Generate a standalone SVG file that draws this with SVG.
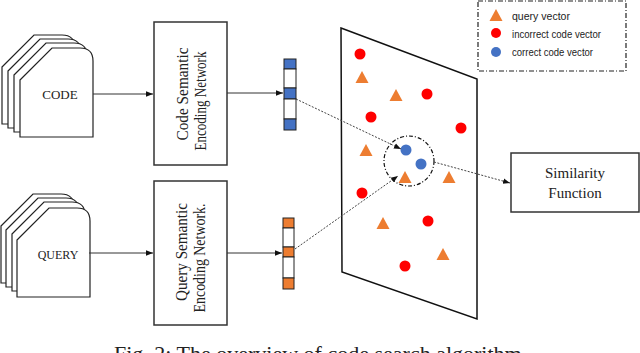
<svg xmlns="http://www.w3.org/2000/svg" width="640" height="353" viewBox="0 0 640 353">
<style>
.doc{fill:#fff;stroke:#222;stroke-width:1.2}
.box{fill:#fff;stroke:#333;stroke-width:1.5}
.serif{font-family:"Liberation Serif","Times New Roman",serif;fill:#222}
.sans{font-family:"Liberation Sans",Arial,sans-serif;fill:#222}
.line{stroke:#333;stroke-width:1;fill:none}
.dash{stroke:#444;stroke-width:1;fill:none;stroke-dasharray:2 1.5}
.red{fill:#ff0000}
.blue{fill:#4472c4}
.tri{fill:#ed7d31}
.cell{stroke:#222;stroke-width:1}
</style>
<defs>
<path id="docshape" d="M0,32 L32,0 L60,0 Q73,0 73,13 L73,89 L0,89 Z"/>
<path id="tri" d="M0,-7 L6.5,5 L-6.5,5 Z"/>
<marker id="arr" viewBox="0 0 10 10" refX="10" refY="5" markerWidth="7" markerHeight="7" orient="auto" markerUnits="userSpaceOnUse">
<path d="M0,1 L10,5 L0,9 Z" fill="#111"/>
</marker>
</defs>

<g id="code-docs">
<use href="#docshape" class="doc" x="2" y="35"/>
<use href="#docshape" class="doc" x="8" y="39"/>
<use href="#docshape" class="doc" x="14" y="43"/>
<use href="#docshape" class="doc" x="20" y="48"/>
<text class="serif" x="60" y="99" font-size="13" text-anchor="middle">CODE</text>
</g>

<g id="query-docs">
<use href="#docshape" class="doc" x="1" y="194"/>
<use href="#docshape" class="doc" x="6" y="198"/>
<use href="#docshape" class="doc" x="12" y="202"/>
<use href="#docshape" class="doc" x="17" y="208"/>
<text class="serif" x="58" y="259" font-size="12" text-anchor="middle">QUERY</text>
</g>

<g id="code-net">
<rect class="box" x="154" y="22" width="73" height="143"/>
<text class="serif" font-size="17" text-anchor="middle" textLength="93" lengthAdjust="spacingAndGlyphs" transform="translate(188,94) rotate(-90)">Code Semantic</text>
<text class="serif" font-size="17" text-anchor="middle" textLength="99" lengthAdjust="spacingAndGlyphs" transform="translate(206,101) rotate(-90)">Encoding Network</text>
</g>

<g id="query-net">
<rect class="box" x="154" y="181" width="73" height="144"/>
<text class="serif" font-size="17" text-anchor="middle" textLength="98" lengthAdjust="spacingAndGlyphs" transform="translate(187,252) rotate(-90)">Query Semantic</text>
<text class="serif" font-size="17" text-anchor="middle" textLength="109" lengthAdjust="spacingAndGlyphs" transform="translate(205,258) rotate(-90)">Encoding Network.</text>
</g>

<g id="code-vector">
<rect class="cell blue" x="284" y="59" width="12" height="10"/>
<rect class="cell" fill="#fff" x="284" y="69" width="12" height="19"/>
<rect class="cell blue" x="284" y="88" width="12" height="11"/>
<rect class="cell" fill="#fff" x="284" y="99" width="12" height="20"/>
<rect class="cell blue" x="284" y="119" width="12" height="11"/>
</g>

<g id="query-vector">
<rect class="cell tri" x="283" y="218" width="11" height="10"/>
<rect class="cell" fill="#fff" x="283" y="228" width="11" height="19"/>
<rect class="cell tri" x="283" y="247" width="11" height="10"/>
<rect class="cell" fill="#fff" x="283" y="257" width="11" height="21"/>
<rect class="cell tri" x="283" y="278" width="11" height="11"/>
</g>

<g id="vector-space">
<polygon points="341,28 477,79 477,319 342,272" fill="#fff" stroke="#111" stroke-width="1.5"/>
<circle class="red" cx="360" cy="54" r="5.5"/>
<use href="#tri" class="tri" x="362" y="78"/>
<use href="#tri" class="tri" x="396" y="96"/>
<circle class="red" cx="427" cy="94" r="5.5"/>
<circle class="red" cx="371" cy="117" r="5.5"/>
<circle class="red" cx="461" cy="128" r="5.5"/>
<use href="#tri" class="tri" x="366" y="151"/>
<circle cx="409" cy="161" r="25" fill="none" stroke="#111" stroke-width="1.2" stroke-dasharray="4 2 1 2"/>
<circle class="blue" cx="406" cy="150" r="5.5"/>
<circle class="blue" cx="421" cy="164" r="5.5"/>
<use href="#tri" class="tri" x="405" y="178"/>
<use href="#tri" class="tri" x="449" y="178"/>
<circle class="red" cx="362" cy="193" r="5.5"/>
<use href="#tri" class="tri" x="383" y="224"/>
<circle class="red" cx="428" cy="221" r="5.5"/>
<use href="#tri" class="tri" x="443" y="255"/>
<circle class="red" cx="405" cy="266" r="5.5"/>
</g>

<g id="similarity">
<rect class="box" x="511" y="153" width="128" height="59"/>
<text class="serif" x="575" y="178" font-size="15" text-anchor="middle">Similarity</text>
<text class="serif" x="575" y="198" font-size="15" text-anchor="middle">Function</text>
</g>

<g id="legend">
<rect x="478" y="1" width="148" height="70" fill="#fff" stroke="#222" stroke-width="1.2" stroke-dasharray="5 2 1 2"/>
<use href="#tri" class="tri" x="496" y="16"/>
<circle class="red" cx="496" cy="33" r="5"/>
<circle class="blue" cx="496" cy="52" r="5"/>
<text class="sans" x="512" y="20" font-size="10.5" textLength="58" lengthAdjust="spacingAndGlyphs">query vector</text>
<text class="sans" x="512" y="38" font-size="10.5" textLength="89" lengthAdjust="spacingAndGlyphs">incorrect code vector</text>
<text class="sans" x="512" y="56" font-size="10.5" textLength="81" lengthAdjust="spacingAndGlyphs">correct code vector</text>
</g>

<g id="connectors">
<line class="line" x1="93" y1="94" x2="153" y2="94" marker-end="url(#arr)"/>
<line class="line" x1="89" y1="253" x2="153" y2="253" marker-end="url(#arr)"/>
<line class="line" x1="227" y1="93" x2="283" y2="93" marker-end="url(#arr)"/>
<line class="line" x1="227" y1="253" x2="282" y2="253" marker-end="url(#arr)"/>
<line class="dash" x1="296" y1="99" x2="401" y2="149" marker-end="url(#arr)"/>
<line class="dash" x1="295" y1="249" x2="398" y2="176" marker-end="url(#arr)"/>
<line class="dash" x1="434" y1="162" x2="510" y2="183" marker-end="url(#arr)"/>
</g>

<text class="serif" x="114" y="361" font-size="22">Fig. 2: The overview of code search algorithm</text>
</svg>
